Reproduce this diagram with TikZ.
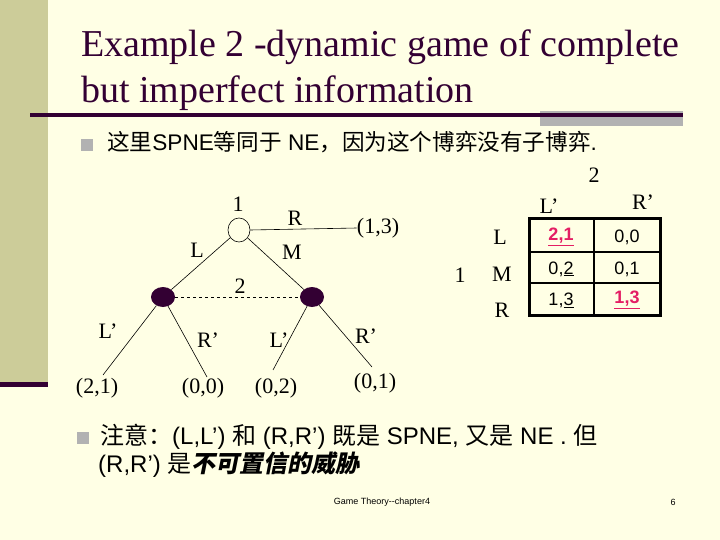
\documentclass[tikz,border=0pt]{standalone}
\usepackage{fontspec}
\setmainfont{Liberation Serif}
\setsansfont{Liberation Sans}
\newfontfamily\cjk{Noto Sans CJK SC}
\newfontfamily\cjkbi{Noto Sans CJK SC}[FakeSlant=0.2]
\usetikzlibrary{shapes.geometric}
\definecolor{bg}{RGB}{255,255,229}
\definecolor{band}{RGB}{204,204,153}
\definecolor{dk}{RGB}{51,0,51}
\definecolor{gbox}{RGB}{178,178,178}
\definecolor{mag}{RGB}{228,30,100}
\tikzset{
  lbl/.style={font=\fontsize{22}{26}\selectfont, inner sep=0pt},
  txt/.style={font=\sffamily\fontsize{24}{28}\selectfont, anchor=base west, inner sep=0pt},
  cell/.style={font=\sffamily\fontsize{18}{20}\selectfont, inner sep=0pt},
  edge/.style={draw=black, line width=0.6pt},
  rootnode/.style={ellipse, draw=black, line width=0.6pt, minimum width=22pt, minimum height=24pt, inner sep=0pt},
  dotnode/.style={ellipse, fill=dk, minimum width=24pt, minimum height=20pt, inner sep=0pt},
  bulletsq/.style={fill=gbox, minimum size=12pt, inner sep=0pt},
}
\begin{document}
\begin{tikzpicture}[x=1pt,y=-1pt]
\useasboundingbox (0,0) rectangle (720,540);
\fill[bg] (0,0) rectangle (720,540);
% left band
\fill[band] (0,0) rectangle (48,382);
\fill[dk] (0,382) rectangle (48,387);
% title
\node[font=\fontsize{38}{44}\selectfont, text=dk, anchor=base west, inner sep=0pt] (t1) at (81,57) {Example 2 -dynamic game of complete};
\node[font=\fontsize{38}{44}\selectfont, text=dk, anchor=base west, inner sep=0pt] (t2) at (81,103) {but imperfect information};
\fill[gbox] (540,111) rectangle (683,126);
\draw[dk, line width=4pt] (30,115) -- (683,115);
% first bullet
\node[bulletsq] (b1) at (87,145) {};
\node[txt, font=\sffamily\fontsize{22.6}{26}\selectfont] (s1) at (107,151) {{\cjk 这里}SPNE{\cjk 等同于} NE{\cjk ，因为这个博弈没有子博弈}.};
% tree
\node[rootnode] (n1) at (239,230) {};
\node[dotnode] (n2) at (163,297) {};
\node[dotnode] (n3) at (312,297) {};
\node[lbl] (p1) at (238,204) {1};
\node[lbl] (p2) at (240,286) {2};
\node[lbl] (aR) at (295,218) {R};
\node[lbl] (aL) at (197,250) {L};
\node[lbl] (aM) at (292,252) {M};
\node[lbl] (r13) at (378,228) {(1,3)};
\node[lbl] (l1) at (97,388) {(2,1)};
\node[lbl] (l2) at (203,388) {(0,0)};
\node[lbl] (l3) at (276,388) {(0,2)};
\node[lbl] (l4) at (375,383) {(0,1)};
\node[lbl] (b2L) at (108,331) {L’};
\node[lbl] (b2R) at (208,340) {R’};
\node[lbl] (b3L) at (279,340) {L’};
\node[lbl] (b3R) at (366,336) {R’};
\coordinate (e1) at (103,375);
\coordinate (e2) at (207,377);
\coordinate (e3) at (273,370);
\coordinate (e4) at (372,367);
\draw[edge] (n1) -- (n2);
\draw[edge] (n1) -- (n3);
\draw[edge] (n1.east) -- (r13.west);
\draw[edge, dashed] (n2) -- (n3);
\draw[edge] (n2) -- (e1);
\draw[edge] (n2) -- (e2);
\draw[edge] (n3) -- (e3);
\draw[edge] (n3) -- (e4);
% matrix
\node[lbl] (m2) at (594,175) {2};
\node[lbl] (mL') at (549,206) {L’};
\node[lbl] (mR') at (643,202) {R’};
\node[lbl] (mL) at (500,237) {L};
\node[lbl] (mM) at (502,274) {M};
\node[lbl] (mR) at (502,310) {R};
\node[lbl] (m1) at (460,275) {1};
\draw[black, line width=2pt] (594,219) -- (594,315);
\draw[black, line width=2pt] (529,252) -- (660,252);
\draw[black, line width=2pt] (529,283) -- (660,283);
\draw[black, line width=3pt] (529,219) rectangle (660,315);
\node[cell, text=mag, font=\sffamily\bfseries\fontsize{18}{20}\selectfont] (c11) at (561,237) {\underline{2,1}};
\node[cell] (c12) at (627,237) {0,0};
\node[cell] (c21) at (561,269) {0,\underline{2}};
\node[cell] (c22) at (627,269) {0,1};
\node[cell] (c31) at (561,300) {1,\underline{3}};
\node[cell, text=mag, font=\sffamily\bfseries\fontsize{18}{20}\selectfont] (c32) at (627,300) {\underline{1,3}};
% second bullet
\node[bulletsq] (b2) at (83,438) {};
\node[txt] (s2) at (100,444) {{\cjk 注意：}(L,L’) {\cjk 和} (R,R’) {\cjk 既是} SPNE, {\cjk 又是} NE . {\cjk 但}};
\node[txt] (s3) at (98,472) {(R,R’) {\cjk 是}{\cjkbi\bfseries 不可置信的威胁}};
% footer
\node[font=\sffamily\fontsize{9}{10}\selectfont, inner sep=0pt] (ft) at (382,502) {Game Theory{-}{-}chapter4};
\node[font=\sffamily\fontsize{9}{10}\selectfont, inner sep=0pt] (pg) at (673,502) {6};
\end{tikzpicture}
\end{document}
